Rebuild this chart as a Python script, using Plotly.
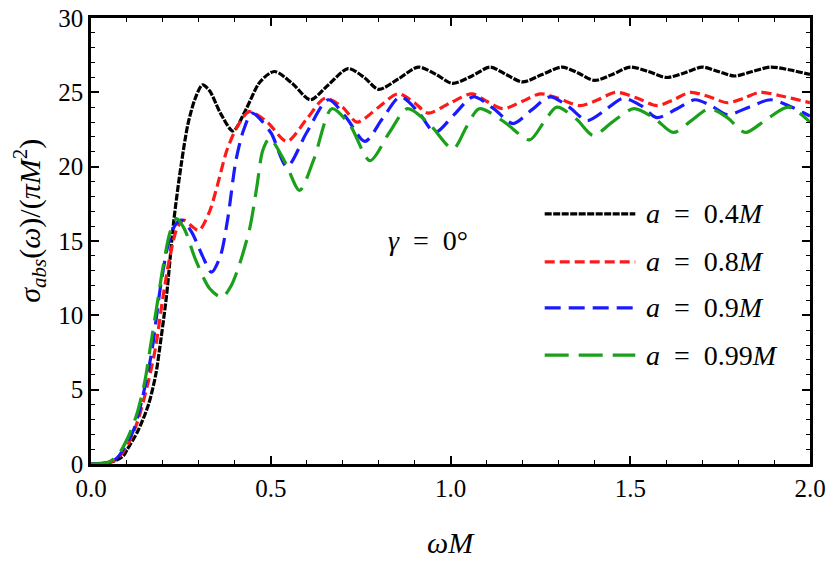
import plotly.graph_objects as go

# a = 0.4M
w_04 = [0, 0.04, 0.07, 0.09, 0.10, 0.13, 0.16, 0.18, 0.19, 0.21, 0.23, 0.25, 0.27, 0.29, 0.31, 0.33,
        0.36, 0.395, 0.43, 0.47, 0.51, 0.56, 0.61, 0.66, 0.715, 0.76, 0.80, 0.855, 0.91, 0.96, 1.005,
        1.06, 1.11, 1.155, 1.20, 1.255, 1.31, 1.355, 1.40, 1.45, 1.50, 1.55, 1.60, 1.65, 1.70, 1.745,
        1.79, 1.84, 1.89, 1.945, 2.0]
s_04 = [0, 0.05, 0.25, 0.55, 0.95, 2.2, 4.0, 6.0, 7.6, 11.3, 16.3, 20.0, 22.9, 24.6, 25.5, 25.1,
        23.6, 22.4, 23.8, 25.7, 26.4, 25.6, 24.5, 25.5, 26.6, 26.0, 25.2, 25.9, 26.7, 26.2, 25.6,
        26.1, 26.7, 26.2, 25.7, 26.2, 26.7, 26.3, 25.8, 26.2, 26.7, 26.4, 26.0, 26.3, 26.7, 26.4,
        26.1, 26.4, 26.7, 26.5, 26.2]

# a = 0.8M
w_08 = [0, 0.04, 0.07, 0.10, 0.13, 0.16, 0.18, 0.20, 0.22, 0.24, 0.258, 0.28, 0.30, 0.33, 0.35,
        0.378, 0.405, 0.44, 0.49, 0.545, 0.60, 0.651, 0.70, 0.74, 0.80, 0.854, 0.90, 0.937, 1.0,
        1.06, 1.10, 1.146, 1.20, 1.25, 1.30, 1.36, 1.41, 1.46, 1.52, 1.574, 1.62, 1.667, 1.72,
        1.77, 1.815, 1.86, 1.93, 2.0]
s_08 = [0, 0.07, 0.3, 1.2, 2.9, 5.6, 7.9, 11.2, 14.0, 15.9, 16.4, 16.0, 15.7, 17.0, 18.6,
        21.1, 22.6, 23.7, 23.0, 21.7, 23.2, 24.6, 24.0, 23.0, 24.0, 24.9, 24.3, 23.6, 24.3,
        24.9, 24.4, 23.9, 24.4, 24.9, 24.6, 24.1, 24.5, 25.0, 24.6, 24.1, 24.5, 25.0, 24.7,
        24.3, 24.6, 25.0, 24.7, 24.3]

# a = 0.9M
w_09 = [0, 0.04, 0.07, 0.10, 0.122, 0.15, 0.17, 0.192, 0.215, 0.235, 0.253, 0.28, 0.31, 0.335,
        0.36, 0.381, 0.403, 0.425, 0.448, 0.50, 0.545, 0.60, 0.66, 0.71, 0.762, 0.81, 0.86, 0.91,
        0.957, 1.01, 1.063, 1.12, 1.174, 1.225, 1.277, 1.33, 1.38, 1.43, 1.48, 1.53, 1.574, 1.63,
        1.68, 1.725, 1.77, 1.83, 1.89, 1.95, 2.0]
s_09 = [0, 0.08, 0.35, 1.4, 2.5, 5.2, 7.7, 11.7, 14.8, 16.1, 16.4, 15.6, 14.0, 12.9,
        14.0, 16.6, 20.4, 22.5, 23.6, 22.3, 20.0, 22.3, 24.5, 23.3, 21.7, 23.2, 24.7, 23.7,
        22.3, 23.5, 24.7, 23.9, 22.9, 23.8, 24.7, 24.0, 23.1, 23.8, 24.6, 24.1, 23.3, 23.9,
        24.5, 24.1, 23.5, 24.0, 24.5, 24.0, 23.4]

# a = 0.99M
w_099 = [0, 0.047, 0.075, 0.103, 0.128, 0.15, 0.164, 0.183, 0.20, 0.22, 0.238, 0.26, 0.29, 0.33,
         0.364, 0.39, 0.414, 0.442, 0.461, 0.478, 0.497, 0.54, 0.58, 0.62, 0.67, 0.72, 0.776, 0.83,
         0.88, 0.94, 1.007, 1.045, 1.08, 1.15, 1.22, 1.26, 1.296, 1.35, 1.397, 1.45, 1.51, 1.57,
         1.62, 1.67, 1.72, 1.77, 1.82, 1.88, 1.94, 2.0]
s_099 = [0, 0.1, 0.6, 1.8, 3.4, 5.6, 7.7, 10.6, 13.2, 15.6, 16.5, 15.8, 13.8, 11.8,
         11.2, 12.0, 13.5, 15.9, 18.6, 21.1, 21.9, 20.3, 18.4, 20.5, 23.9, 22.8, 20.4, 22.3,
         23.9, 22.9, 21.2, 22.7, 23.9, 23.0, 21.8, 23.0, 24.0, 23.2, 22.1, 23.0, 23.9, 23.2,
         22.3, 23.1, 23.9, 23.3, 22.3, 23.2, 24.0, 23.0]

esp = '\u00a0\u00a0'
noms = [f'<i>a</i>{esp}={esp}0.4<i>M</i>', f'<i>a</i>{esp}={esp}0.8<i>M</i>',
        f'<i>a</i>{esp}={esp}0.9<i>M</i>', f'<i>a</i>{esp}={esp}0.99<i>M</i>']
couleurs = ['black', '#ff1a1a', '#1a1aff', '#1aa01a']
tirets = ['7px,1.5px', '10px,5px', '16px,8px', '24px,10px']
series = [(w_04, s_04), (w_08, s_08), (w_09, s_09), (w_099, s_099)]

police = 'Liberation Serif, Times New Roman, serif'

fig = go.Figure()
for (w, s), nom, c, d in zip(series, noms, couleurs, tirets):
    fig.add_trace(go.Scatter(x=w, y=s, mode='lines', name=nom, showlegend=False,
                             line=dict(color=c, width=3.2, dash=d, shape='spline', smoothing=0.8)))

# légende faite à la main (traits longs comme l'original)
legende_y = [0.561, 0.453, 0.350, 0.244]
for nom, c, d, y in zip(noms, couleurs, tirets, legende_y):
    fig.add_shape(type='line', xref='paper', yref='paper', x0=0.631, x1=0.757, y0=y, y1=y,
                  line=dict(color=c, width=3.2, dash=d))
    fig.add_annotation(xref='paper', yref='paper', x=0.769, y=y, text=nom, showarrow=False,
                       xanchor='left', yanchor='middle', font=dict(family=police, size=28, color='black'))

fig.add_annotation(xref='paper', yref='paper', x=0.469, y=0.502, text=f'<i>γ</i>{esp}={esp}0°',
                   showarrow=False, font=dict(family=police, size=28, color='black'))

# titres des axes
fig.add_annotation(xref='paper', yref='paper', x=0.5, y=-0.175, text='<i>ωM</i>', showarrow=False,
                   xanchor='center', yanchor='middle', font=dict(family=police, size=30, color='black'))
fig.add_annotation(xref='paper', yref='paper', x=-0.085, y=0.545, textangle=-90, showarrow=False,
                   xanchor='center', yanchor='middle',
                   text='<i>σ</i><sub><i>abs</i></sub>(<i>ω</i>)/(<i>πM</i><sup>2</sup>)',
                   font=dict(family=police, size=30, color='black'))

axe = dict(showline=True, linecolor='black', linewidth=2.5, mirror='allticks', ticks='inside',
           ticklen=8, tickwidth=1.8, tickcolor='black', showgrid=False, zeroline=False,
           automargin=False, ticklabeloverflow='allow',
           tickfont=dict(family=police, size=25, color='black'))

fig.update_xaxes(**axe, range=[0, 2], dtick=0.5, tickformat='.1f',
                 minor=dict(dtick=0.1, ticks='inside', ticklen=4, tickwidth=1.2, tickcolor='black'))
fig.update_yaxes(**axe, range=[0, 30], dtick=5,
                 minor=dict(dtick=1, ticks='inside', ticklen=4, tickwidth=1.2, tickcolor='black'))

fig.update_layout(width=830, height=569, plot_bgcolor='white', paper_bgcolor='white',
                  font=dict(family=police, color='black'),
                  margin=dict(l=91, r=20, t=18, b=105))

# on enlève la marge de 8px de la page pour que la figure remplisse la fenêtre
fig.write_html('out.html', config={'displayModeBar': False},
               post_script="document.body.style.margin='0';")
